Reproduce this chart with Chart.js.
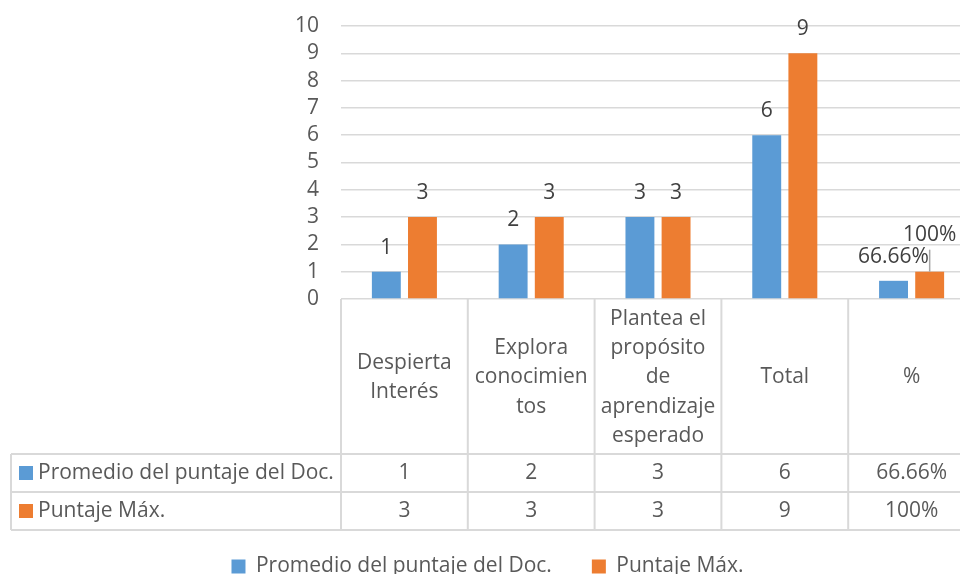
<!DOCTYPE html>
<html>
<head>
<meta charset="UTF-8">
<title>Puntaje</title>
<script src="https://cdn.jsdelivr.net/npm/chart.js@4.4.0/dist/chart.umd.min.js"></script>
<style>
  body { margin: 0; overflow: hidden; background: #fff; }
</style>
</head>
<body>
<canvas id="chart" width="975" height="587"></canvas>
<script>
// data
const categories = [
  ['Despierta', 'Interés'],
  ['Explora', 'conocimien', 'tos'],
  ['Plantea el', 'propósito', 'de', 'aprendizaje', 'esperado'],
  ['Total'],
  ['%']
];
const seriesNames = ['Promedio del puntaje del Doc.', 'Puntaje Máx.'];
const promedio = [1, 2, 3, 6, 0.6666];
const maximo = [3, 3, 3, 9, 1];
const percentCol = 4;

const BLUE = '#5B9BD5', ORANGE = '#ED7D31';
const GRID = '#d9d9d9', TXT = '#595959', LBL = '#404040';
const FONT = '"Open Sans", "Noto Sans", sans-serif';
const FS = 21;

function fmt(v, i) {
  if (i === percentCol) return (+(v * 100).toFixed(2)) + '%';
  return String(v);
}

// value labels above bars
const barLabels = {
  id: 'barLabels',
  afterDatasetsDraw(chart) {
    const ctx = chart.ctx;
    ctx.save();
    ctx.font = FS + 'px ' + FONT;
    ctx.fillStyle = LBL;
    ctx.textAlign = 'center';
    ctx.textBaseline = 'middle';
    chart.data.datasets.forEach((ds, d) => {
      chart.getDatasetMeta(d).data.forEach((bar, i) => {
        let y = bar.y - 24;
        // the 100% label sits higher with a leader line
        if (d === 1 && i === percentCol) {
          y = bar.y - 37;
          ctx.strokeStyle = '#a6a6a6';
          ctx.lineWidth = 1.5;
          ctx.beginPath();
          ctx.moveTo(bar.x, y + 15);
          ctx.lineTo(bar.x, bar.y);
          ctx.stroke();
        }
        ctx.fillText(fmt(ds.data[i], i), bar.x, y);
      });
    });
    ctx.restore();
  }
};

// data table under the plot
const dataTable = {
  id: 'dataTable',
  afterDraw(chart) {
    const ctx = chart.ctx;
    const area = chart.chartArea;
    const xs = chart.scales.x;
    const n = categories.length;
    const colW = (xs.getPixelForValue(1) - xs.getPixelForValue(0));
    const top = area.bottom;
    const headBottom = top + 155;
    const rows = [headBottom, headBottom + 38, headBottom + 76];
    const tableLeft = 11;
    const right = xs.getPixelForValue(n - 1) + colW / 2;

    ctx.save();
    ctx.strokeStyle = GRID;
    ctx.lineWidth = 2;
    ctx.beginPath();
    for (let i = 0; i <= n; i++) {
      const x = xs.getPixelForValue(0) - colW / 2 + i * colW;
      ctx.moveTo(x, top);
      ctx.lineTo(x, rows[2]);
    }
    rows.forEach(y => { ctx.moveTo(tableLeft, y); ctx.lineTo(right, y); });
    ctx.moveTo(tableLeft, rows[0]);
    ctx.lineTo(tableLeft, rows[2]);
    ctx.stroke();

    ctx.font = FS + 'px ' + FONT;
    ctx.fillStyle = TXT;
    ctx.textAlign = 'center';
    ctx.textBaseline = 'middle';
    const lh = 29.3;
    const midHead = (top + headBottom) / 2 + 1;
    categories.forEach((lines, i) => {
      const cx = xs.getPixelForValue(i);
      const y0 = midHead - (lines.length - 1) * lh / 2;
      lines.forEach((t, k) => ctx.fillText(t, cx, y0 + k * lh));
    });

    const series = [promedio, maximo];
    const colors = [BLUE, ORANGE];
    series.forEach((vals, r) => {
      const cy = (rows[r] + rows[r + 1]) / 2;
      ctx.fillStyle = colors[r];
      ctx.fillRect(19, cy - 7, 14, 14);
      ctx.fillStyle = TXT;
      ctx.textAlign = 'left';
      ctx.fillText(seriesNames[r], 38, cy);
      ctx.textAlign = 'center';
      vals.forEach((v, i) => ctx.fillText(fmt(v, i), xs.getPixelForValue(i), cy));
    });
    ctx.restore();
  }
};

new Chart(document.getElementById('chart'), {
  type: 'bar',
  data: {
    labels: categories.map(c => c.join(' ')),
    datasets: [
      { label: seriesNames[0], data: promedio, backgroundColor: BLUE },
      { label: seriesNames[1], data: maximo, backgroundColor: ORANGE }
    ]
  },
  options: {
    responsive: false,
    animation: false,
    categoryPercentage: 0.57,
    barPercentage: 0.8,
    layout: { padding: { left: 0, top: 26, right: 0, bottom: 0 } },
    plugins: {
      legend: {
        position: 'bottom',
        labels: {
          boxWidth: 14, boxHeight: 14, padding: 40,
          color: TXT,
          font: { size: FS, family: FONT }
        }
      },
      tooltip: { enabled: false }
    },
    scales: {
      x: {
        ticks: { display: false },
        grid: { display: false },
        border: { display: false },
        afterFit(scale) { scale.height = 217; }
      },
      y: {
        min: 0, max: 10,
        ticks: { stepSize: 1, autoSkip: false, color: TXT, padding: 22, font: { size: FS, family: FONT } },
        grid: { color: GRID, lineWidth: 1.5, drawTicks: false },
        border: { display: false },
        afterFit(scale) {
          scale.width = 341;
          scale.paddingTop = 10;
          scale.paddingBottom = 10;
        }
      }
    }
  },
  plugins: [barLabels, dataTable]
});
</script>
</body>
</html>
